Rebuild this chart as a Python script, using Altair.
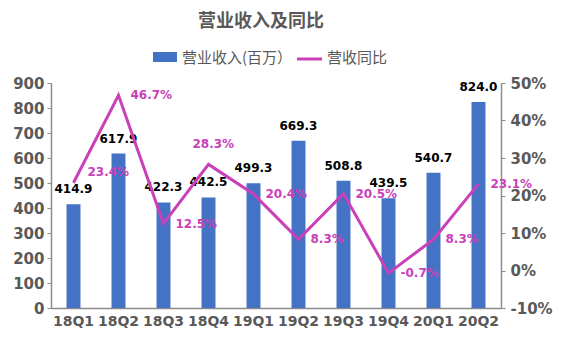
import altair as alt
import pandas as pd

quarters = ["18Q1", "18Q2", "18Q3", "18Q4", "19Q1", "19Q2", "19Q3", "19Q4", "20Q1", "20Q2"]
revenue = [414.9, 617.9, 422.3, 442.5, 499.3, 669.3, 508.8, 439.5, 540.7, 824.0]
yoy = [23.4, 46.7, 12.5, 28.3, 20.4, 8.3, 20.5, -0.7, 8.3, 23.1]

title_text = "营业收入及同比"
legend_bar = "营业收入(百万）"
legend_line = "营收同比"

BLUE = "#4472C4"
MAG = "#C940B9"
GRAY = "#595959"
NUM_FONT = "DejaVu Sans"
CJK_FONT = "Noto Sans CJK SC"

df = pd.DataFrame({"q": quarters, "rev": revenue, "yoy": yoy})
df["rev_label"] = [f"{v:.1f}" for v in revenue]
df["yoy_label"] = [f"{v:.1f}%" for v in yoy]

base = alt.Chart(df)
xenc = alt.X("q:N", sort=quarters, title=None,
             scale=alt.Scale(paddingInner=0.69, paddingOuter=0.345),
             axis=alt.Axis(labelAngle=0, labelFont=NUM_FONT, labelFontSize=14,
                           labelFontWeight="bold", labelColor=GRAY, labelPadding=6,
                           domainColor="#8c8c8c", domainWidth=1.5, tickColor="#8c8c8c",
                           ticks=False, grid=False))
xplain = alt.X("q:N", sort=quarters, title=None)

yrev = alt.Scale(domain=[0, 900], nice=False)
rev_axis = alt.Axis(values=list(range(0, 901, 100)), grid=False, orient="left", title=None,
                    labelFont=NUM_FONT, labelFontSize=15, labelFontWeight="bold",
                    labelColor=GRAY, domainColor="#8c8c8c", domainWidth=1.5,
                    tickColor="#8c8c8c", tickSize=4, labelPadding=3)
bars = base.mark_bar(color=BLUE).encode(
    x=xenc,
    y=alt.Y("rev:Q", scale=yrev, title=None, axis=rev_axis),
)
bar_text = base.mark_text(font=NUM_FONT, fontSize=12, fontWeight="bold", color="black",
                          baseline="bottom", dy=-8).encode(
    x=xplain,
    y=alt.Y("rev:Q", scale=yrev, title=None, axis=rev_axis),
    text="rev_label:N",
)

ypct = alt.Scale(domain=[-10, 50], nice=False)
pct_axis = alt.Axis(values=list(range(-10, 51, 10)), grid=False, orient="right", title=None,
                    labelExpr="datum.value + '%'",
                    labelFont=NUM_FONT, labelFontSize=15, labelFontWeight="bold",
                    labelColor=GRAY, domainColor="#8c8c8c", domainWidth=1.5,
                    tickColor="#8c8c8c", tickSize=4, labelPadding=5)
line = base.mark_line(color=MAG, strokeWidth=3).encode(
    x=xplain,
    y=alt.Y("yoy:Q", scale=ypct, title=None, axis=pct_axis),
)
pct_text_right = base.transform_filter("datum.q != '18Q4' && datum.q != '18Q1'").mark_text(
    font=NUM_FONT, fontSize=12, fontWeight="bold", color=MAG, align="left", dx=12).encode(
    x=xplain,
    y=alt.Y("yoy:Q", scale=ypct, title=None, axis=pct_axis),
    text="yoy_label:N",
)
pct_text_first = base.transform_filter("datum.q == '18Q1'").mark_text(
    font=NUM_FONT, fontSize=12, fontWeight="bold", color=MAG, align="left", dx=14, dy=-11).encode(
    x=xplain,
    y=alt.Y("yoy:Q", scale=ypct, title=None, axis=pct_axis),
    text="yoy_label:N",
)
pct_text_up = base.transform_filter("datum.q == '18Q4'").mark_text(
    font=NUM_FONT, fontSize=12, fontWeight="bold", color=MAG, align="left", dx=-16, dy=-20).encode(
    x=xplain,
    y=alt.Y("yoy:Q", scale=ypct, title=None, axis=pct_axis),
    text="yoy_label:N",
)

# title and legend (drawn in the margin above the plot area)
anno = pd.DataFrame({"k": [0]})
ab = alt.Chart(anno)
title_mark = ab.mark_text(font=CJK_FONT, fontSize=18, fontWeight="bold", color=GRAY).encode(
    x=alt.value(210), y=alt.value(-61), text=alt.value(title_text))
leg_rect = ab.mark_rect(color=BLUE).encode(
    x=alt.value(102), x2=alt.value(126), y=alt.value(-31), y2=alt.value(-21))
leg_t1 = ab.mark_text(font=CJK_FONT, fontSize=15, color=GRAY, align="left").encode(
    x=alt.value(131), y=alt.value(-25), text=alt.value(legend_bar))
leg_line = ab.mark_rule(color=MAG, strokeWidth=3).encode(
    x=alt.value(246), x2=alt.value(271), y=alt.value(-24))
leg_t2 = ab.mark_text(font=CJK_FONT, fontSize=15, color=GRAY, align="left").encode(
    x=alt.value(276), y=alt.value(-25), text=alt.value(legend_line))

left = alt.layer(bars, bar_text)
right = alt.layer(line, pct_text_right, pct_text_first, pct_text_up)
chart = alt.layer(left, right, title_mark, leg_rect, leg_t1, leg_line, leg_t2).resolve_scale(
    y="independent").properties(
    width=450, height=225,
    background="white",
    autosize=alt.AutoSizeParams(type="none"),
    padding={"left": 51, "top": 83, "right": 60, "bottom": 45},
).configure_view(stroke=None, strokeWidth=0)

chart.save("out.html", embed_options={"renderer": "svg", "actions": False})
